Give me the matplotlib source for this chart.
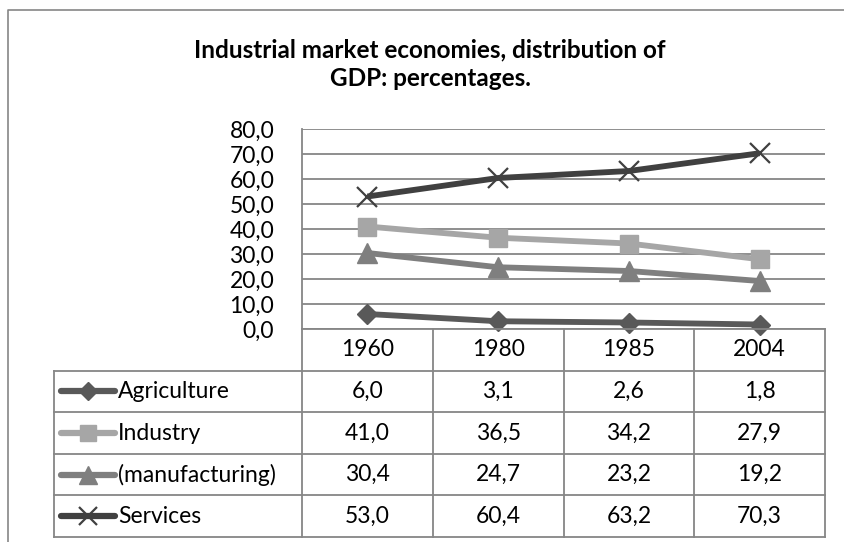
import matplotlib
matplotlib.use("Agg")
import matplotlib.pyplot as plt
from matplotlib.lines import Line2D

years = ["1960", "1980", "1985", "2004"]
series_names = ["Agriculture", "Industry", "(manufacturing)", "Services"]
agriculture = [6.0, 3.1, 2.6, 1.8]
industry = [41.0, 36.5, 34.2, 27.9]
manufacturing = [30.4, 24.7, 23.2, 19.2]
services = [53.0, 60.4, 63.2, 70.3]
yticks = [0, 10, 20, 30, 40, 50, 60, 70, 80]
title = "Industrial market economies, distribution of\nGDP: percentages."

values = [agriculture, industry, manufacturing, services]
colors = ["#595959", "#A6A6A6", "#7F7F7F", "#404040"]
markers = ["D", "s", "^", "x"]
msizes = [10.5, 13.5, 14, 14]

plt.rcParams['font.family'] = ['Lato', 'DejaVu Sans']

W, H = 844, 542
fig = plt.figure(figsize=(W / 100, H / 100), dpi=100)

def fx(px):
    return px / W

def fy(py):
    return 1 - py / H

FS = 16.5
LW = 4.2

# outer chart border
fig.add_artist(Line2D([fx(8), fx(8), fx(844)], [fy(542), fy(10), fy(10)],
                      color="#868686", lw=1.2, transform=fig.transFigure))

fig.text(fx(430), fy(64), title, ha="center", va="center", fontsize=17.5,
         fontweight="bold", linespacing=1.3)

PL, PR, PT, PB = 302, 825, 129, 329
ax = fig.add_axes([fx(PL), fy(PB), (PR - PL) / W, (PB - PT) / H])
ax.set_xlim(-0.5, 3.5)
ax.set_ylim(0, 80)
ax.set_yticks(yticks)
ax.set_yticklabels([f"{v:.1f}".replace(".", ",") for v in yticks], fontsize=FS)
ax.set_xticks([])
ax.tick_params(axis="y", length=0, pad=20)
ax.yaxis.grid(True, color="#868686", lw=1.3)
ax.set_axisbelow(True)
for s in ["top", "right", "bottom"]:
    ax.spines[s].set_visible(False)
ax.spines["left"].set_color("#868686")
ax.spines["left"].set_linewidth(1.3)
ax.patch.set_alpha(0)

x = list(range(len(years)))
for vals, c, m, ms in zip(values, colors, markers, msizes):
    kw = dict(color=c, lw=LW, marker=m, markersize=ms, markerfacecolor=c,
              markeredgecolor=c, clip_on=False, solid_capstyle="butt")
    if m == "x":
        kw.update(markeredgewidth=1.6)
    ax.plot(x, vals, **kw)

# data table
TL = 54
colw = (PR - PL) / 4.0
xleft = -0.5 - (PL - TL) / colw
TB = 537
axt = fig.add_axes([fx(TL), fy(TB), (PR - TL) / W, (TB - PB) / H])
axt.set_xlim(xleft, 3.5)
axt.set_ylim(5, 0)
axt.axis("off")
lc = "#868686"
lk = dict(color=lc, lw=1.3, clip_on=False)
axt.plot([-0.5, 3.5], [0, 0], **lk)
for xv in [-0.5, 0.5, 1.5, 2.5, 3.5]:
    axt.plot([xv, xv], [0, 5], **lk)
for yv in [1, 2, 3, 4, 5]:
    axt.plot([xleft, 3.5], [yv, yv], **lk)
axt.plot([xleft, xleft], [1, 5], **lk)

for i, yr in enumerate(years):
    axt.text(i, 0.5, yr, ha="center", va="center", fontsize=FS)

def px2x(px):
    return xleft + (px - TL) / colw

for r, (name, vals, c, m, ms) in enumerate(zip(series_names, values, colors, markers, msizes)):
    yc = r + 1.5
    kw = dict(color=c, lw=LW + 0.3, marker=m, markersize=ms * 0.9, markerfacecolor=c,
              markeredgecolor=c, markevery=[1], clip_on=False,
              solid_capstyle="round")
    if m == "x":
        kw.update(markeredgewidth=1.6)
    axt.plot([px2x(61), px2x(88), px2x(115)], [yc, yc, yc], **kw)
    axt.text(px2x(118), yc, name, ha="left", va="center", fontsize=FS)
    for i, v in enumerate(vals):
        axt.text(i, yc, f"{v:.1f}".replace(".", ","), ha="center", va="center", fontsize=FS)

fig.savefig("out.png", dpi=100)
